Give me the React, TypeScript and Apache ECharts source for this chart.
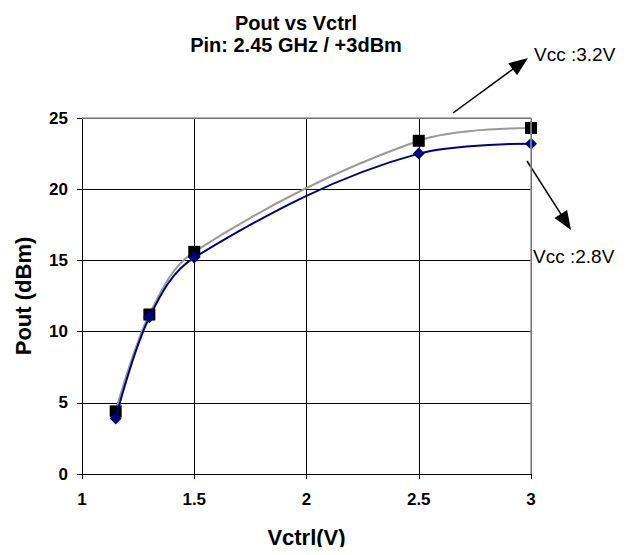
import React, { useEffect, useRef } from "react";
import * as echarts from "echarts";

const vctrl = [1.15, 1.3, 1.5, 2.5, 3];
const pout32 = [4.4, 11.2, 15.6, 23.4, 24.3];
const pout28 = [3.9, 11.0, 15.2, 22.5, 23.2];
const xTicks = [1, 1.5, 2, 2.5, 3];
const yTicks = [0, 5, 10, 15, 20, 25];
const seriesNames = ["Vcc :3.2V", "Vcc :2.8V"];

function arrow(sx: number, sy: number, tx: number, ty: number) {
  const dx = tx - sx;
  const dy = ty - sy;
  const len = Math.sqrt(dx * dx + dy * dy);
  const ux = dx / len;
  const uy = dy / len;
  const nx = -uy;
  const ny = ux;
  const hl = 19;
  const hw = 7.5;
  const bx = tx - ux * hl;
  const by = ty - uy * hl;
  return [
    {
      type: "line",
      shape: { x1: sx, y1: sy, x2: bx + ux * 2, y2: by + uy * 2 },
      style: { stroke: "#000", lineWidth: 1.5 },
    },
    {
      type: "polygon",
      shape: {
        points: [
          [tx, ty],
          [bx + nx * hw, by + ny * hw],
          [bx - nx * hw, by - ny * hw],
        ],
      },
      style: { fill: "#000" },
    },
  ];
}

export default function App() {
  const ref = useRef<HTMLDivElement>(null);
  useEffect(() => {
    if (!ref.current) return;
    const chart = echarts.init(ref.current, null, { renderer: "svg" });
    const font = "Arial, 'Liberation Sans', sans-serif";
    const L = 82;
    const R = 531;
    const T = 118;
    const B = 474;
    chart.setOption({
      animation: false,
      backgroundColor: "#fff",
      title: {
        text: "Pout vs Vctrl\nPin: 2.45 GHz / +3dBm",
        left: 291,
        textAlign: "center",
        top: 7,
        textStyle: {
          fontFamily: font,
          fontWeight: "bold",
          fontSize: 20,
          lineHeight: 22,
          color: "#000",
        },
      },
      grid: { left: L, right: 629 - R, top: T, bottom: 555 - B },
      xAxis: {
        type: "value",
        min: xTicks[0],
        max: xTicks[xTicks.length - 1],
        interval: 0.5,
        name: "Vctrl(V)",
        nameLocation: "middle",
        nameGap: 52,
        nameTextStyle: { fontFamily: font, fontWeight: "bold", fontSize: 22, color: "#000" },
        axisLine: { lineStyle: { color: "#000", width: 1 } },
        axisTick: { show: true, length: 5, lineStyle: { color: "#000" } },
        axisLabel: {
          margin: 17,
          fontFamily: font,
          fontWeight: "bold",
          fontSize: 17,
          color: "#000",
          formatter: (v: number) => String(v),
        },
        splitLine: { show: true, lineStyle: { color: "#000", width: 1 } },
      },
      yAxis: {
        type: "value",
        min: yTicks[0],
        max: yTicks[yTicks.length - 1],
        interval: 5,
        name: "Pout (dBm)",
        nameLocation: "middle",
        nameGap: 48,
        nameTextStyle: { fontFamily: font, fontWeight: "bold", fontSize: 22, color: "#000" },
        axisLine: { show: true, lineStyle: { color: "#000", width: 1 } },
        axisTick: { show: true, length: 5, lineStyle: { color: "#000" } },
        axisLabel: {
          margin: 14,
          fontFamily: font,
          fontWeight: "bold",
          fontSize: 17,
          color: "#000",
        },
        splitLine: { show: true, lineStyle: { color: "#000", width: 1 } },
      },
      graphic: [
        {
          type: "line",
          shape: { x1: L, y1: T, x2: R, y2: T },
          style: { stroke: "#999", lineWidth: 1.5 },
          z: 10,
        },
        {
          type: "line",
          shape: { x1: R, y1: T, x2: R, y2: B },
          style: { stroke: "#999", lineWidth: 1.5 },
          z: 10,
        },
        ...arrow(453, 113, 528, 58),
        ...arrow(527, 161, 571, 230),
        {
          type: "text",
          left: 534,
          top: 45,
          style: { text: seriesNames[0], font: `19px ${font}`, fill: "#000" },
        },
        {
          type: "text",
          left: 533,
          top: 247,
          style: { text: seriesNames[1], font: `19px ${font}`, fill: "#000" },
        },
      ],
      series: [
        {
          name: seriesNames[0],
          type: "line",
          smooth: 0.35,
          data: vctrl.map((x, i) => [x, pout32[i]]),
          symbol: "rect",
          symbolSize: 12,
          itemStyle: { color: "#000" },
          lineStyle: { color: "#999", width: 2 },
          z: 3,
        },
        {
          name: seriesNames[1],
          type: "line",
          smooth: 0.35,
          data: vctrl.map((x, i) => [x, pout28[i]]),
          symbol: "diamond",
          symbolSize: 12,
          itemStyle: { color: "#000080" },
          lineStyle: { color: "#000080", width: 2 },
          z: 4,
        },
      ],
    });
    return () => chart.dispose();
  }, []);
  return <div ref={ref} style={{ width: 629, height: 555, margin: -8 }} />;
}
